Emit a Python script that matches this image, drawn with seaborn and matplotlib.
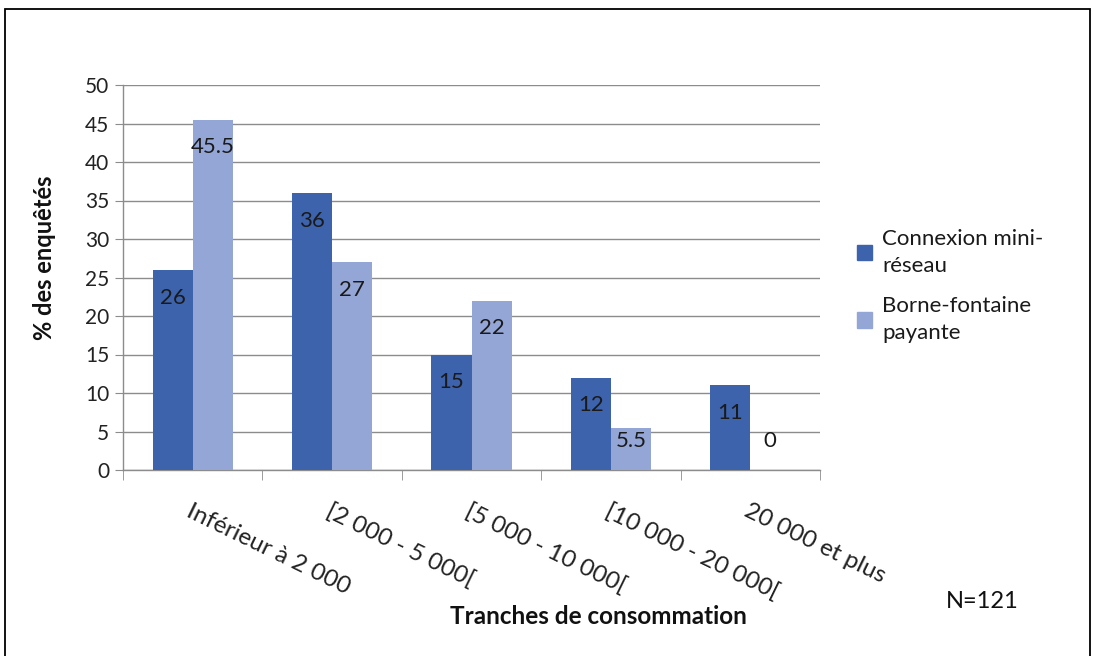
import pandas as pd
import numpy as np
import matplotlib.pyplot as plt
import matplotlib.patches as mpatches
import seaborn as sns

# donnees
categories = ['Inférieur à 2 000', '[2 000 - 5 000[', '[5 000 - 10 000[',
              '[10 000 - 20 000[', '20 000 et plus']
series = ['Connexion mini-\nréseau', 'Borne-fontaine\npayante']
connexion = [26, 36, 15, 12, 11]
borne = [45.5, 27, 22, 5.5, 0]
etiquettes_conn = ['26', '36', '15', '12', '11']
etiquettes_borne = ['45.5', '27', '22', '5.5', '0']
yticks = [0, 5, 10, 15, 20, 25, 30, 35, 40, 45, 50]

df = pd.DataFrame({
    'tranche': categories * 2,
    'serie': [series[0]] * 5 + [series[1]] * 5,
    'valeur': connexion + borne,
})

sns.set_style('white')
plt.rcParams['font.family'] = ['Lato', 'DejaVu Sans']

fig = plt.figure(figsize=(10.94, 6.56), dpi=100)
ax = fig.add_axes([123 / 1094, 1 - 470 / 656, (820 - 123) / 1094, (470 - 85) / 656])

couleurs = ['#3C63AC', '#94A6D6']
sns.barplot(data=df, x='tranche', y='valeur', hue='serie', palette=couleurs,
            width=0.574, saturation=1, gap=0, ax=ax, zorder=3, legend=True,
            linewidth=0)

ax.set_ylim(0, 50)
ax.set_xlim(-0.5, 4.5)
ax.set_yticks(yticks)
ax.yaxis.grid(True, color='#8c8c8c', linewidth=1, zorder=0)
ax.tick_params(axis='y', labelsize=15, length=6, color='#8c8c8c', left=True,
               pad=4, labelcolor='#222222')
for s in ['top', 'right']:
    ax.spines[s].set_visible(False)
for s in ['left', 'bottom']:
    ax.spines[s].set_color('#8c8c8c')
    ax.spines[s].set_linewidth(1)

# ticks x aux frontieres
ax.set_xticks(np.arange(-0.5, 5, 1), minor=True)
ax.tick_params(axis='x', which='minor', length=7, color='#8c8c8c', bottom=True)
ax.tick_params(axis='x', which='major', length=0, pad=22)
ax.set_xticks(range(5))
ax.set_xticklabels(categories, rotation=-26, ha='left', va='top',
                   rotation_mode='anchor', fontsize=17.5, color='#222222')
ax.set_xlabel('')
ax.set_ylabel('')

# etiquettes des barres
decal = 3.6
for i, cont in enumerate(ax.containers):
    labs = etiquettes_conn if i == 0 else etiquettes_borne
    for bar, lab in zip(cont, labs):
        v = bar.get_height()
        y = max(v - decal, 3.75)
        ax.text(bar.get_x() + bar.get_width() / 2, y, lab, ha='center',
                va='center', fontsize=16, color='#1a1a1a', zorder=5)

# legende
handles = [mpatches.Patch(color=c) for c in couleurs]
leg = ax.legend(handles, series, loc='upper left',
                bbox_to_anchor=(848 / 1094, 1 - 220 / 656),
                bbox_transform=fig.transFigure, frameon=False, fontsize=16,
                handlelength=0.7, handleheight=0.7, handletextpad=0.45,
                labelspacing=0.9, borderaxespad=0)
for t in leg.get_texts():
    t.set_linespacing(1.45)
    t.set_color('#1a1a1a')

fig.text(45 / 1094, 1 - 258 / 656, '% des enquêtés', rotation=90, ha='center',
         va='center', fontsize=17, fontweight='bold', color='#111111')
fig.text(598 / 1094, 1 - 617 / 656, 'Tranches de consommation', ha='center',
         va='center', fontsize=17.5, fontweight='bold', color='#111111')
fig.text(982 / 1094, 1 - 602 / 656, 'N=121', ha='center', va='center',
         fontsize=17, color='#111111')

# cadre
fig.patches.append(mpatches.Rectangle((5 / 1094, -0.1), 1085 / 1094, 1.1 - 9 / 656,
                                      transform=fig.transFigure, fill=False,
                                      edgecolor='black', linewidth=1.3))

plt.savefig('out.png', dpi=100)
